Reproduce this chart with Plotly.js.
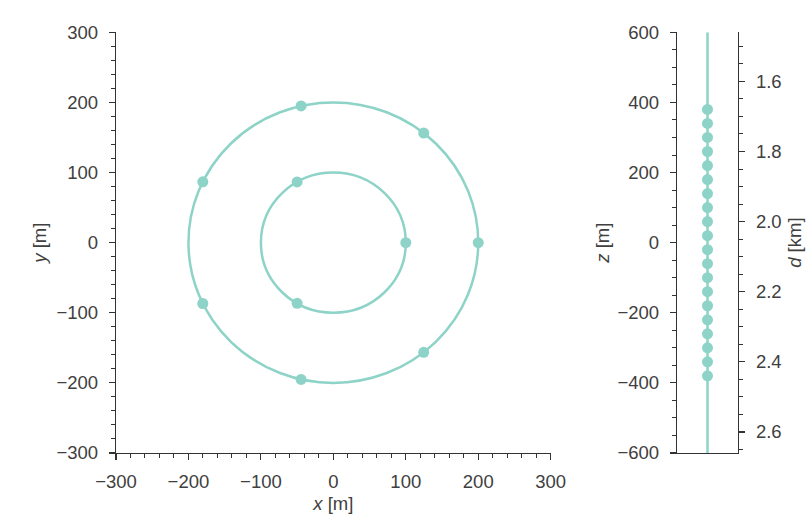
<!DOCTYPE html>
<html>
<head>
<meta charset="utf-8">
<script src="https://cdn.plot.ly/plotly-3.0.1.min.js"></script>
<style>html,body{margin:0;padding:0;background:#fff;}#chart{width:807px;height:522px;}</style>
</head>
<body>
<div id="chart"></div>
<script>
// ---- data ----
const ringRadii = [100, 200];                     // m
const innerX = [100, -50, -50];
const innerY = [0, 86.6, -86.6];
const outerX = [200, 124.7, -44.5, -180.2, -180.2, -44.5, 124.7];
const outerY = [0, 156.4, 195.0, 86.8, -86.8, -195.0, -156.4];
const boreZ = [600, -600];                        // vertical line extent, m
const sensorZ = [380, 340, 300, 260, 220, 180, 140, 100, 60, 20,
                 -20, -60, -100, -140, -180, -220, -260, -300, -340, -380];
const depthRange = [2.66, 1.46];                  // d [km], reversed
const xyTicks = [-300, -200, -100, 0, 100, 200, 300];
const zTicks = [-600, -400, -200, 0, 200, 400, 600];
const dTicks = [1.6, 1.8, 2.0, 2.2, 2.4, 2.6];

const C = '#8dd3c7';
const AX = '#333333';
const FONT = {family: 'Liberation Sans, Arial, sans-serif', size: 18.5, color: '#404040'};

const W = 807, H = 522;
const yDom = [(H - 453) / H, (H - 32.3) / H];

const traces = [
  {x: innerX, y: innerY, xaxis: 'x', yaxis: 'y', mode: 'markers', type: 'scatter',
   marker: {color: C, size: 11}, hoverinfo: 'skip', showlegend: false},
  {x: outerX, y: outerY, xaxis: 'x', yaxis: 'y', mode: 'markers', type: 'scatter',
   marker: {color: C, size: 11}, hoverinfo: 'skip', showlegend: false},
  {x: boreZ.map(() => 0), y: boreZ, xaxis: 'x2', yaxis: 'y2', mode: 'lines', type: 'scatter',
   line: {color: C, width: 2.5}, hoverinfo: 'skip', showlegend: false},
  {x: sensorZ.map(() => 0), y: sensorZ, xaxis: 'x2', yaxis: 'y2', mode: 'markers', type: 'scatter',
   marker: {color: C, size: 11}, hoverinfo: 'skip', showlegend: false},
  {x: [null], y: [null], xaxis: 'x2', yaxis: 'y3', type: 'scatter', mode: 'lines',
   hoverinfo: 'skip', showlegend: false}
];

const shapes = ringRadii.map(r => ({
  type: 'circle', xref: 'x', yref: 'y', x0: -r, x1: r, y0: -r, y1: r,
  line: {color: C, width: 2.5}, layer: 'below'
}));

const axBase = {
  showgrid: false, zeroline: false, showline: true, linecolor: AX, linewidth: 1.2,
  ticks: 'outside', ticklen: 6, tickwidth: 1.2, tickcolor: AX, tickfont: FONT,
  ticklabelstandoff: 7, fixedrange: true
};
const minus = v => v < 0 ? '\u2212' + (-v) : String(v);

const layout = {
  width: W, height: H,
  margin: {l: 0, r: 0, t: 0, b: 0},
  paper_bgcolor: '#ffffff', plot_bgcolor: '#ffffff',
  font: FONT,
  showlegend: false,
  shapes: shapes,
  xaxis: Object.assign({}, axBase, {
    domain: [116 / W, 550.7 / W], range: [-300, 300], anchor: 'y',
    tickvals: xyTicks, ticktext: xyTicks.map(minus), ticklabelstandoff: 6,
    minor: {dtick: 20, ticklen: 3.5, tickcolor: AX, tickwidth: 1, ticks: 'outside'},
    title: {text: '<i>x</i> [m]', font: FONT, standoff: 5}
  }),
  yaxis: Object.assign({}, axBase, {
    domain: yDom, range: [-300, 300], anchor: 'x',
    tickvals: xyTicks, ticktext: xyTicks.map(minus),
    minor: {dtick: 20, ticklen: 3.5, tickcolor: AX, tickwidth: 1, ticks: 'outside'},
    title: {text: '<i>y</i> [m]', font: FONT, standoff: 5}
  }),
  xaxis2: Object.assign({}, axBase, {
    domain: [677 / W, 738 / W], range: [-1, 1], anchor: 'y2',
    ticks: '', showticklabels: false
  }),
  yaxis2: Object.assign({}, axBase, {
    domain: yDom, range: [-600, 600], anchor: 'x2',
    tickvals: zTicks, ticktext: zTicks.map(minus),
    minor: {dtick: 50, ticklen: 3.5, tickcolor: AX, tickwidth: 1, ticks: 'outside'},
    title: {text: '<i>z</i> [m]', font: FONT, standoff: 3}
  }),
  yaxis3: Object.assign({}, axBase, {
    domain: yDom, range: depthRange, anchor: 'x2', overlaying: 'y2', side: 'right',
    tickvals: dTicks, ticktext: dTicks.map(v => v.toFixed(1)),
    minor: {dtick: 0.05, ticklen: 3.5, tickcolor: AX, tickwidth: 1, ticks: 'outside'},
    title: {text: '<i>d</i> [km]', font: FONT, standoff: 7}
  })
};

Plotly.newPlot('chart', traces, layout, {staticPlot: true, displayModeBar: false});
</script>
</body>
</html>
